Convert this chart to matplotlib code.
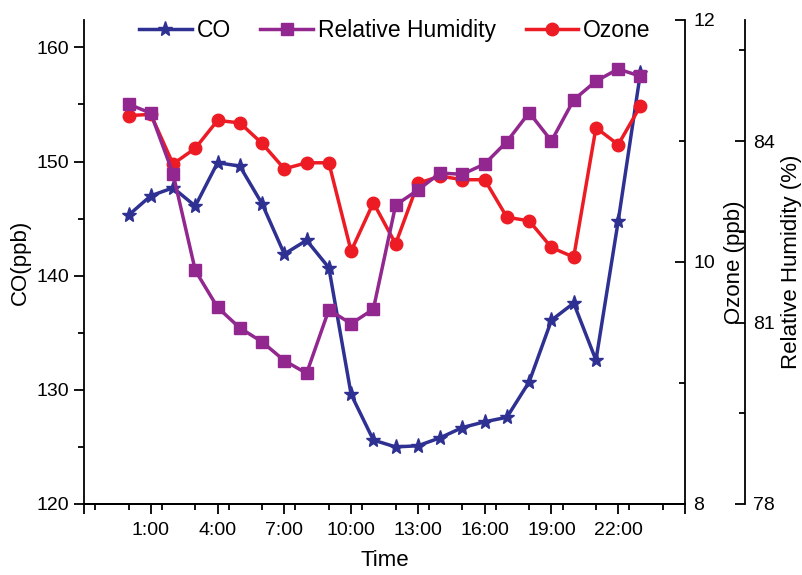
import numpy as np
import matplotlib
matplotlib.use('Agg')
import matplotlib.pyplot as plt
from matplotlib.ticker import MultipleLocator

plt.rcParams['font.family'] = ['Liberation Sans', 'DejaVu Sans']

hours = list(range(24))
co = [145.3, 147.0, 147.7, 146.1, 149.9, 149.6, 146.3, 141.9, 143.1, 140.7,
      129.6, 125.6, 125.0, 125.1, 125.8, 126.7, 127.2, 127.6, 130.7, 136.1,
      137.6, 132.6, 144.8, 157.8]
ozone = [11.21, 11.22, 10.81, 10.94, 11.17, 11.15, 10.98, 10.77, 10.82, 10.82,
         10.09, 10.49, 10.15, 10.65, 10.71, 10.68, 10.68, 10.37, 10.34, 10.12,
         10.04, 11.11, 10.97, 11.29]
rh = [84.61, 84.46, 83.46, 81.86, 81.25, 80.91, 80.68, 80.37, 80.16, 81.21,
      80.98, 81.22, 82.94, 83.19, 83.47, 83.45, 83.62, 83.99, 84.47, 84.00,
      84.68, 84.99, 85.19, 85.07]
xticks = [-2, 1, 4, 7, 10, 13, 16, 19, 22, 25]
xlabels = ['', '1:00', '4:00', '7:00', '10:00', '13:00', '16:00', '19:00', '22:00', '']

c_co = '#2E3192'
c_rh = '#92278F'
c_oz = '#ED1C24'

fig = plt.figure(figsize=(8.03, 5.75), dpi=100)
ax = fig.add_axes([84/803, 1-504/575, 601/803, 484/575])
ax2 = ax.twinx()
ax3 = ax.twinx()
ax3.spines['right'].set_position(('axes', 661/601))

l1, = ax.plot(hours, co, color=c_co, lw=2.5, marker='*', ms=11, label='CO')
l2, = ax3.plot(hours, rh, color=c_rh, lw=2.5, marker='s', ms=8, label='Relative Humidity')
l3, = ax2.plot(hours, ozone, color=c_oz, lw=2.5, marker='o', ms=9, label='Ozone')

ax.set_xlim(-2, 25)
ax.set_ylim(120, 162.4)
ax2.set_ylim(8, 12)
ax3.set_ylim(78, 86)

ax.set_xticks(xticks)
ax.set_xticklabels(xlabels)
ax.xaxis.set_minor_locator(MultipleLocator(1.5))
ax.set_yticks([120, 130, 140, 150, 160])
ax.yaxis.set_minor_locator(MultipleLocator(5))
ax2.set_yticks([8, 10, 12])
ax2.yaxis.set_minor_locator(MultipleLocator(1))
ax3.set_yticks([78, 81, 84])
ax3.yaxis.set_minor_locator(MultipleLocator(1.5))

for a in (ax, ax2, ax3):
    a.spines['top'].set_visible(False)
    for s in a.spines.values():
        s.set_linewidth(1.3)
ax.spines['right'].set_visible(False)
ax3.spines['left'].set_visible(False)
ax2.spines['left'].set_visible(False)

ax.tick_params(axis='both', which='major', direction='out', length=7, width=1.3, labelsize=14)
ax.tick_params(axis='both', which='minor', direction='out', length=4, width=1.3)
ax.tick_params(axis='x', which='major', pad=6)
for a in (ax2, ax3):
    a.tick_params(axis='y', which='major', direction='in', length=7, width=1.3, labelsize=14, pad=6)
    a.tick_params(axis='y', which='minor', direction='in', length=4, width=1.3)

ax.set_xlabel('Time', fontsize=16, labelpad=8)
ax.set_ylabel('CO(ppb)', fontsize=16, labelpad=4)
ax2.set_ylabel('Ozone (ppb)', fontsize=16)
ax2.yaxis.set_label_coords(1.065, 0.5)
ax3.set_ylabel('Relative Humidity (%)', fontsize=16, labelpad=4)

ax.legend(handles=[l1, l2, l3], loc='upper center', ncol=3, frameon=False,
          fontsize=16.5, bbox_to_anchor=(0.517, 1.045), handlelength=2.3,
          columnspacing=1.3, handletextpad=0.2)

fig.savefig('out.png', dpi=100)
